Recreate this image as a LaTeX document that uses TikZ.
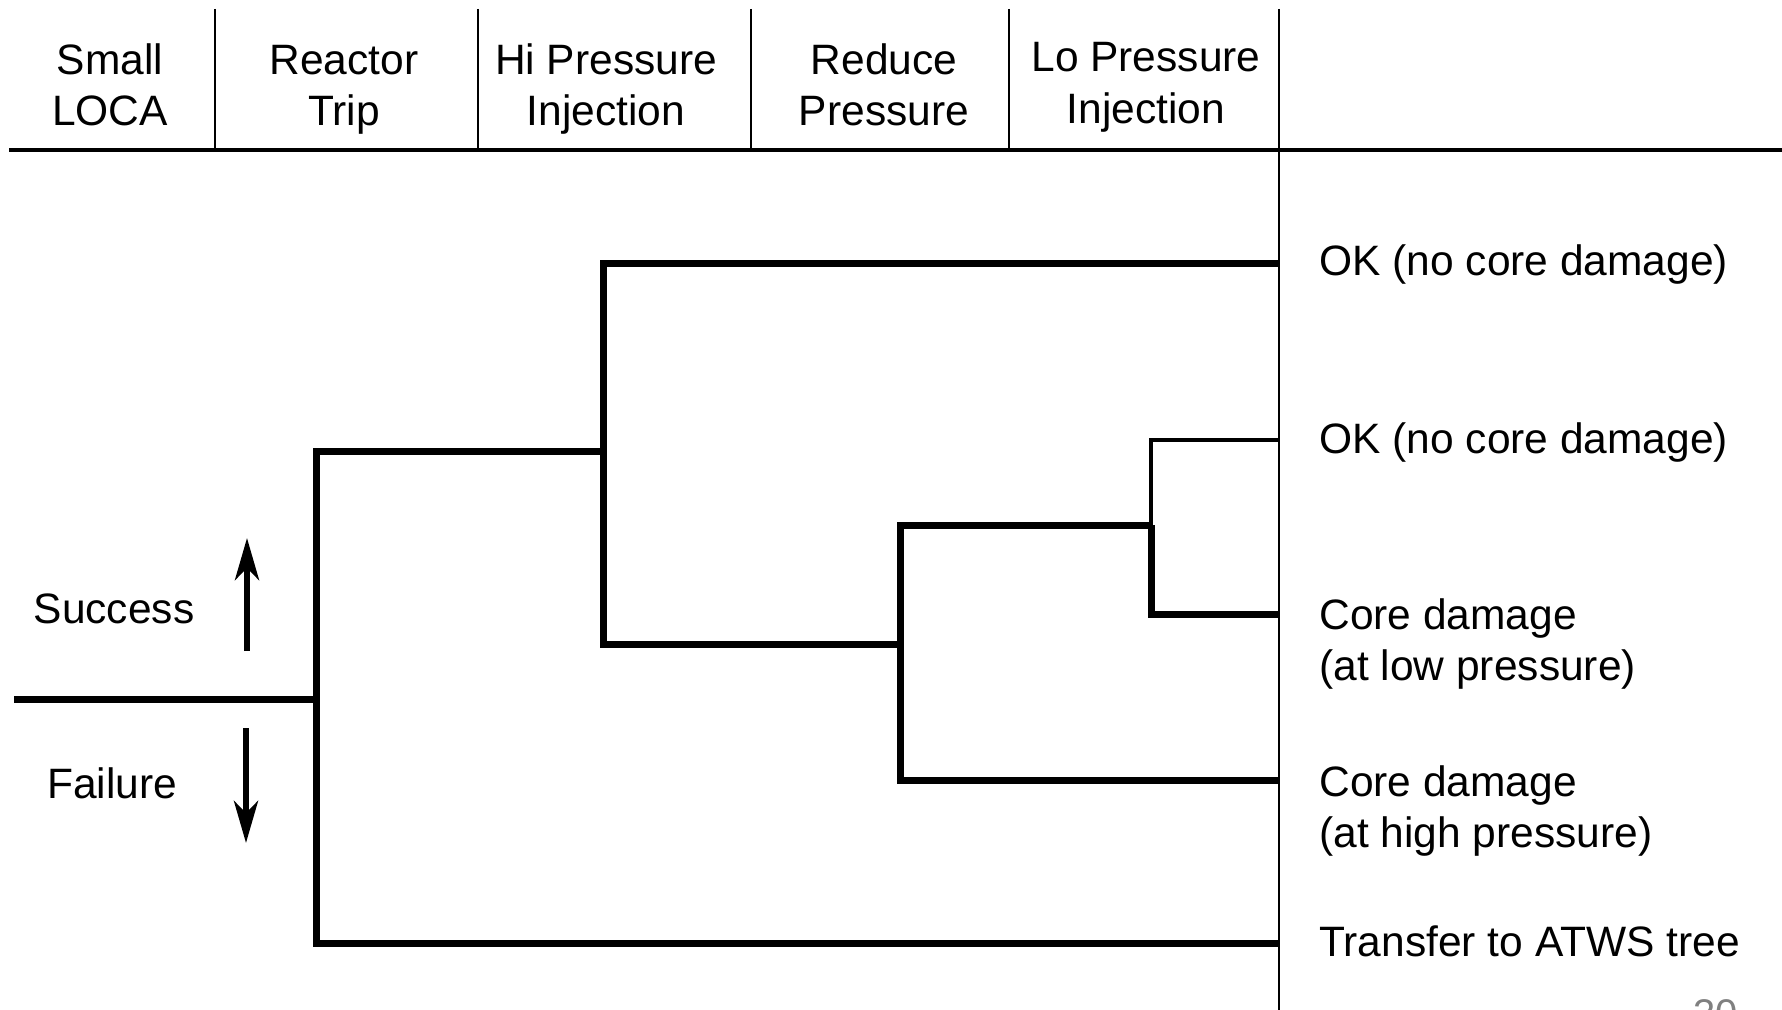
\documentclass[tikz,border=0pt]{standalone}
\usepackage{fontspec}
\setmainfont{Liberation Sans}
\usetikzlibrary{arrows.meta}
\begin{document}
\begin{tikzpicture}[x=0.5pt,y=-0.5pt,
  txt/.style={inner sep=0pt, font=\fontsize{21.25pt}{25.5pt}\selectfont},
  hdr/.style={txt, anchor=base},
  outc/.style={txt, anchor=base west},
  sep/.style={line width=1.2pt},
  rule/.style={line width=2pt},
  branch/.style={line width=3.5pt, line join=miter},
  thinbranch/.style={line width=2.2pt, line join=miter},
  dir/.style={line width=3pt, -{Stealth[length=21pt,width=12pt,inset=6pt]}}]
\useasboundingbox (0,0) rectangle (1782,1010);

% ---- header ----
\coordinate (hl) at (9,150);
\coordinate (hr) at (1782,150);
\draw[rule] (hl) -- (hr);
\foreach \n/\x in {s1/215,s2/478,s3/751,s4/1009}{
  \coordinate (\n t) at (\x,9);
  \coordinate (\n b) at (\x,150);
  \draw[sep] (\n t) -- (\n b);
}
\coordinate (s5t) at (1279,9);
\coordinate (s5b) at (1279,1010);
\draw[sep] (s5t) -- (s5b);

\node[hdr] (h1a) at (110,75) {Small};
\node[hdr] (h1b) at (110,126) {LOCA};
\node[hdr] (h2a) at (344,75) {Reactor};
\node[hdr] (h2b) at (344,126) {Trip};
\node[hdr] (h3a) at (606,75) {Hi Pressure};
\node[hdr] (h3b) at (606,126) {Injection};
\node[hdr] (h4a) at (884,75) {Reduce};
\node[hdr] (h4b) at (884,126) {Pressure};
\node[hdr] (h5a) at (1146,72) {Lo Pressure};
\node[hdr] (h5b) at (1146,124) {Injection};

% ---- branch points ----
\coordinate (init) at (14,699);
\coordinate (rt)   at (316,699);
\coordinate (rtS)  at (316,451);
\coordinate (rtF)  at (316,943);
\coordinate (hpi)  at (603,451);
\coordinate (hpiS) at (603,264);
\coordinate (hpiF) at (603,644);
\coordinate (rp)   at (900,644);
\coordinate (rpS)  at (900,525);
\coordinate (rpF)  at (900,780);
\coordinate (lpi)  at (1151,525);
\coordinate (lpiS) at (1151,440);
\coordinate (lpiF) at (1151,614);
% end points on the outcome line
\coordinate (e1) at (1279,264);
\coordinate (e2) at (1279,440);
\coordinate (e3) at (1279,614);
\coordinate (e4) at (1279,780);
\coordinate (e5) at (1279,943);

% ---- tree ----
\draw[branch] (init) -- (rt);
\draw[branch] (e5) -- (rtF) -- (rtS) -- (hpi);
\draw[branch] (e1) -- (hpiS) -- (hpiF) -- (rp);
\draw[branch] (e4) -- (rpF) -- (rpS) -- (lpi);
\draw[thinbranch] (e2) -- (lpiS) -- (lpi);
\draw[branch] (lpi) -- (lpiF) -- (e3);

% ---- success / failure legend ----
\node[txt, anchor=base] (succ) at (114,623) {Success};
\node[txt, anchor=base] (fail) at (112,798) {Failure};
\coordinate (su0) at (247,651);
\coordinate (su1) at (247,538);
\coordinate (fa0) at (246,728);
\coordinate (fa1) at (246,843);
\draw[dir] (su0) -- (su1);
\draw[dir] (fa0) -- (fa1);

% ---- outcomes ----
\node[outc] (o1)  at (1319,276) {OK (no core damage)};
\node[outc] (o2)  at (1319,453) {OK (no core damage)};
\node[outc] (o3a) at (1319,629) {Core damage};
\node[outc] (o3b) at (1319,680) {(at low pressure)};
\node[outc] (o4a) at (1319,796) {Core damage};
\node[outc] (o4b) at (1319,847) {(at high pressure)};
\node[outc] (o5)  at (1319,956) {Transfer to ATWS tree};

% ---- page number (runs off the lower edge) ----
\node[inner sep=0pt, anchor=base west, text=black!50,
      font=\fontsize{20pt}{24pt}\selectfont] (pg) at (1693,1027) {30};
\end{tikzpicture}
\end{document}
